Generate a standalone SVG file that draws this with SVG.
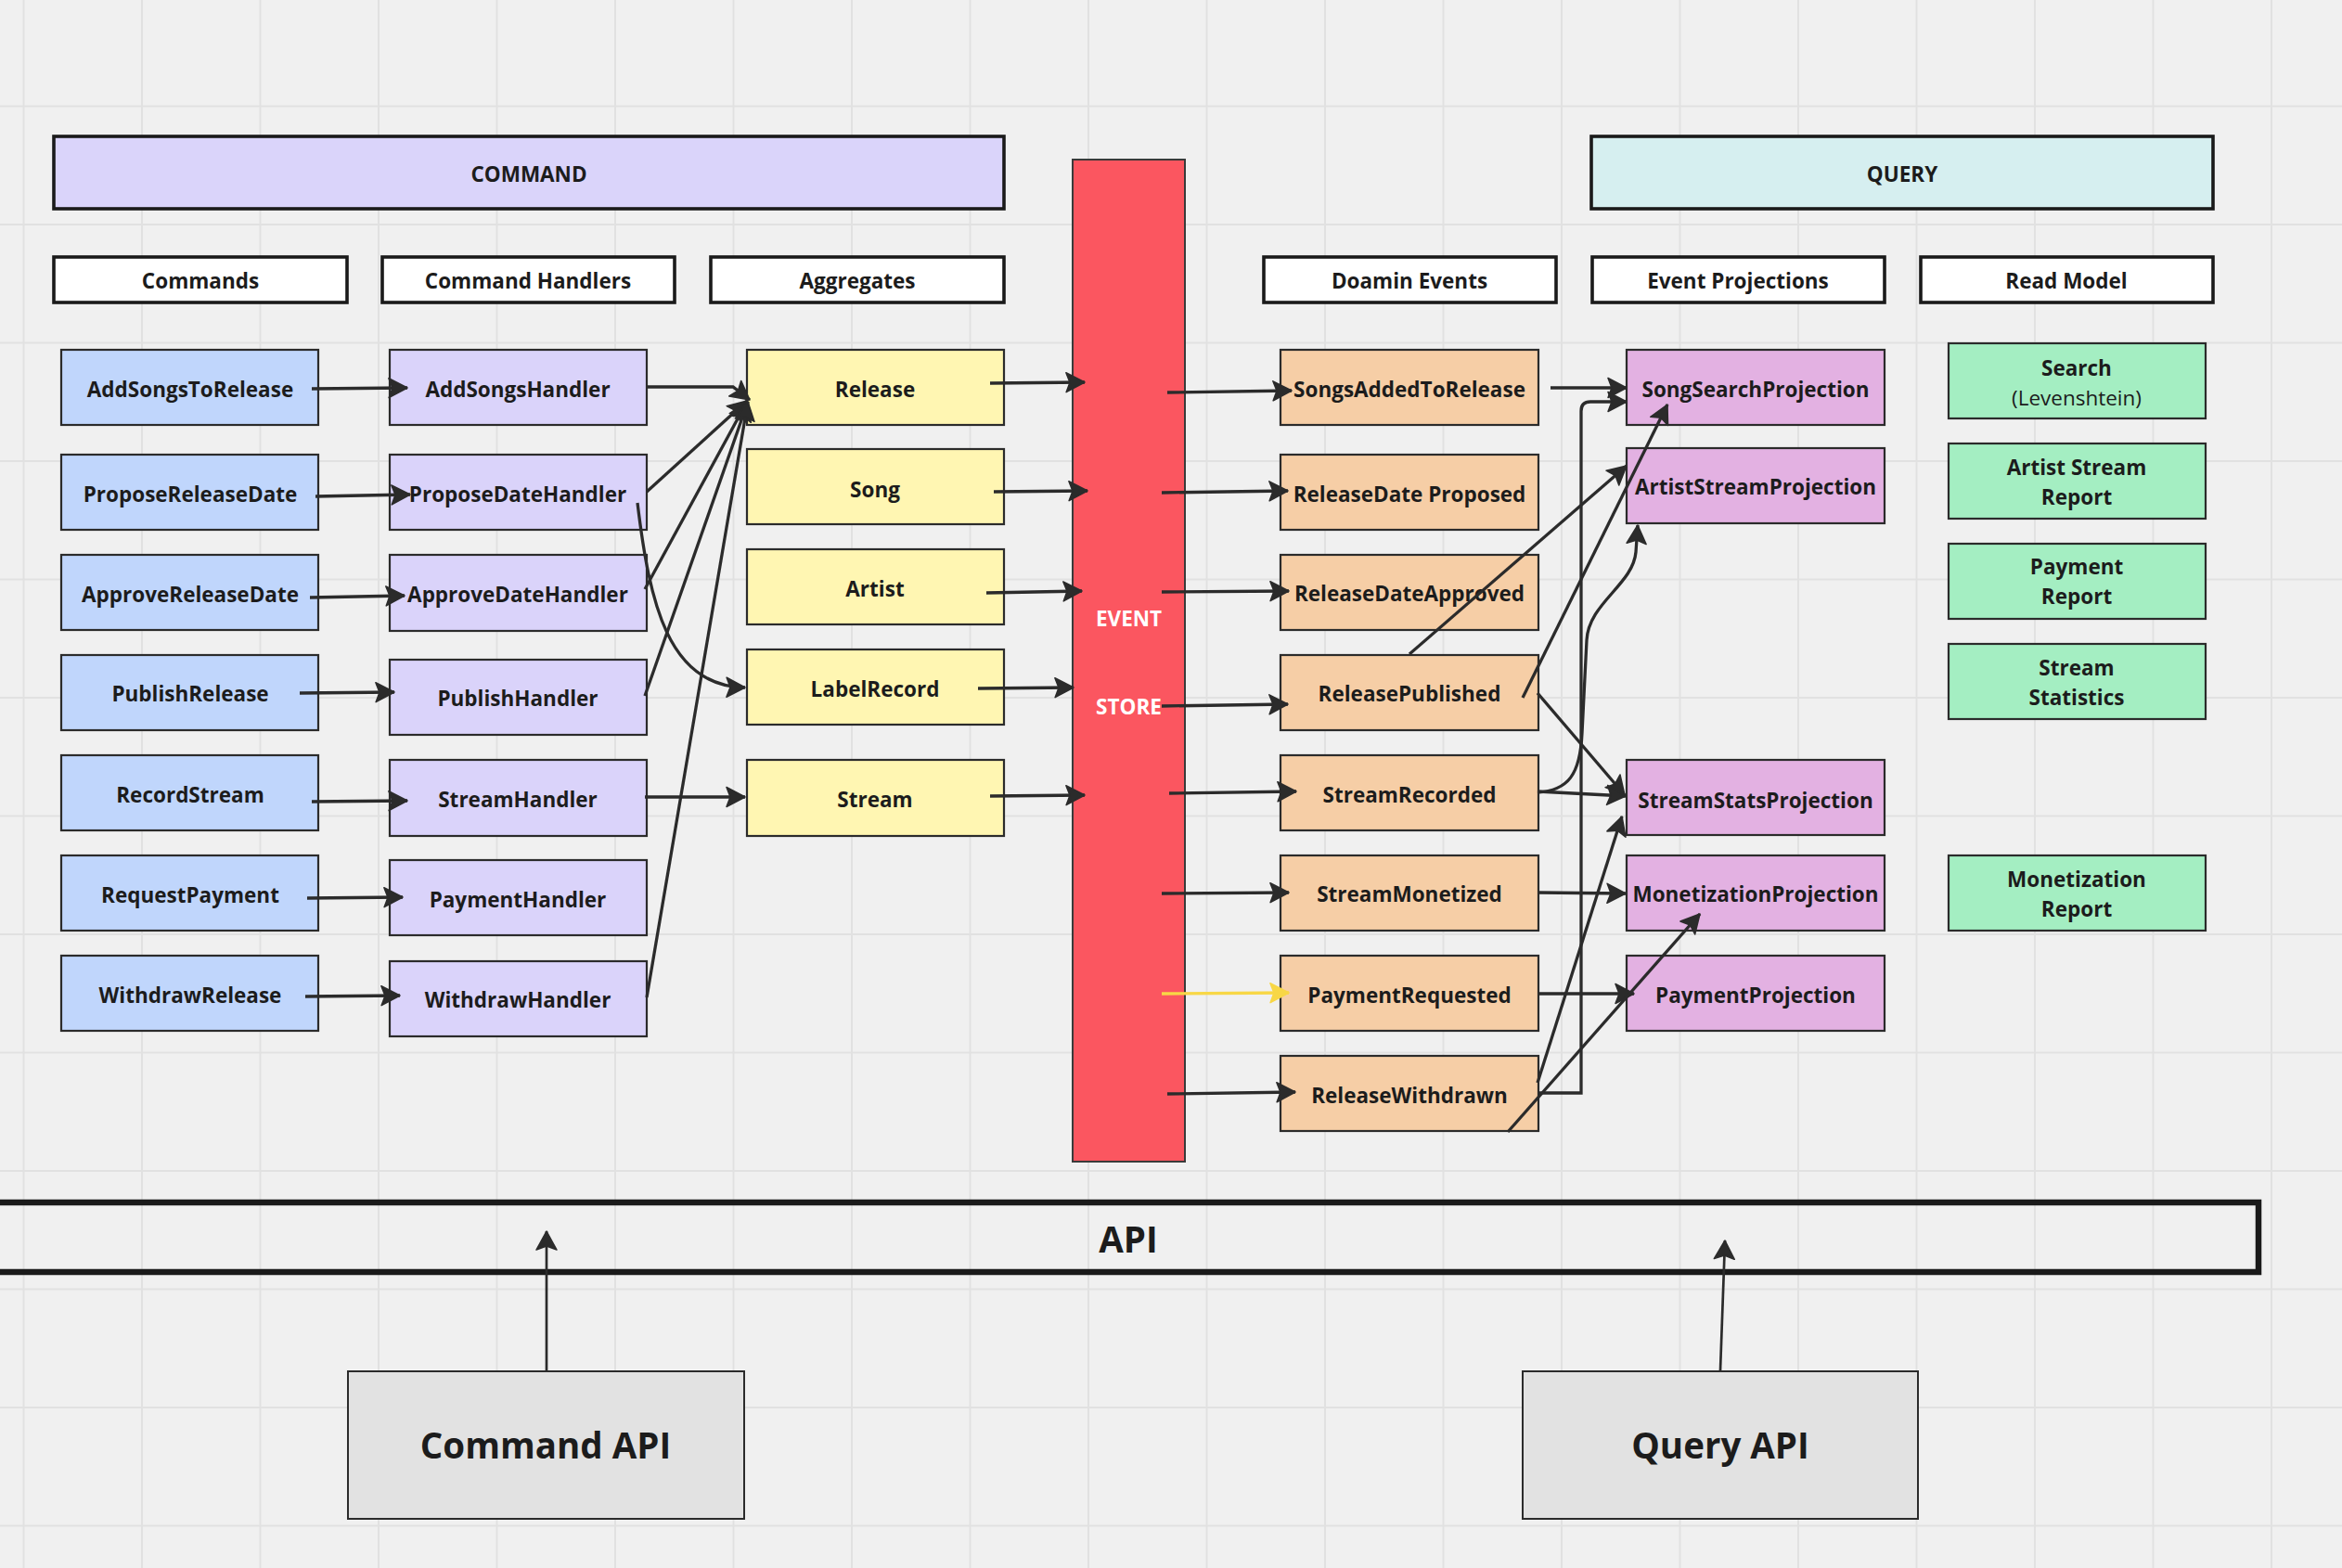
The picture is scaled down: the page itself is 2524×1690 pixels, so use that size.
<svg xmlns="http://www.w3.org/2000/svg" width="2524" height="1690" viewBox="0 0 2524 1690">
<defs>
<style>
.t{font-family:"Open Sans","Noto Sans","Liberation Sans",sans-serif;font-weight:700;font-size:22.5px;fill:#1c1c1c;text-anchor:middle;dominant-baseline:central}
.r{font-weight:400}
.w{fill:#ffffff}
.big{font-size:38.5px}
.n{stroke:#2b2b2b;stroke-width:2.2}
.hd{stroke:#1a1a1a;stroke-width:3.6}
.cmd{fill:#c0d6fc}
.hnd{fill:#dad3fa}
.agg{fill:#fff6b2}
.evt{fill:#f6cea6}
.prj{fill:#e3b1e2}
.rm{fill:#a4eec2}
.c{fill:none;stroke:#2b2b2b;stroke-width:3.3;marker-end:url(#ah)}
.g line{stroke:#e1e1e1;stroke-width:2}
</style>
<marker id="ah" markerUnits="userSpaceOnUse" viewBox="0 0 22 24" markerWidth="22" markerHeight="24" refX="21" refY="12" orient="auto"><path d="M1,1.5 L21,12 L1,22.5 L5,12 Z" fill="#2b2b2b" stroke="#2b2b2b" stroke-width="1.5" stroke-linejoin="round"/></marker>
<marker id="ahy" markerUnits="userSpaceOnUse" viewBox="0 0 22 24" markerWidth="22" markerHeight="24" refX="21" refY="12" orient="auto"><path d="M1,1.5 L21,12 L1,22.5 L5,12 Z" fill="#f8d746" stroke="#f8d746" stroke-width="1.5" stroke-linejoin="round"/></marker>
<marker id="ahs" markerUnits="userSpaceOnUse" viewBox="0 0 22 26" markerWidth="22" markerHeight="26" refX="21" refY="13" orient="auto"><path d="M1,2 L21,13 L1,24 L5,13 Z" fill="#2b2b2b" stroke="#2b2b2b" stroke-width="1.5" stroke-linejoin="round"/></marker>
</defs>
<rect x="0" y="0" width="2524" height="1690" fill="#f0f0f0"/>
<g class="g">
<line x1="25.5" y1="0" x2="25.5" y2="1690"/><line x1="153" y1="0" x2="153" y2="1690"/><line x1="280.5" y1="0" x2="280.5" y2="1690"/><line x1="408" y1="0" x2="408" y2="1690"/><line x1="535.5" y1="0" x2="535.5" y2="1690"/><line x1="663" y1="0" x2="663" y2="1690"/><line x1="790.5" y1="0" x2="790.5" y2="1690"/><line x1="918" y1="0" x2="918" y2="1690"/><line x1="1045.5" y1="0" x2="1045.5" y2="1690"/><line x1="1173" y1="0" x2="1173" y2="1690"/><line x1="1300.5" y1="0" x2="1300.5" y2="1690"/><line x1="1428" y1="0" x2="1428" y2="1690"/><line x1="1555.5" y1="0" x2="1555.5" y2="1690"/><line x1="1683" y1="0" x2="1683" y2="1690"/><line x1="1810.5" y1="0" x2="1810.5" y2="1690"/><line x1="1938" y1="0" x2="1938" y2="1690"/><line x1="2065.5" y1="0" x2="2065.5" y2="1690"/><line x1="2193" y1="0" x2="2193" y2="1690"/><line x1="2320.5" y1="0" x2="2320.5" y2="1690"/><line x1="2448" y1="0" x2="2448" y2="1690"/>
<line x1="0" y1="114.5" x2="2524" y2="114.5"/><line x1="0" y1="242" x2="2524" y2="242"/><line x1="0" y1="369.5" x2="2524" y2="369.5"/><line x1="0" y1="497" x2="2524" y2="497"/><line x1="0" y1="624.5" x2="2524" y2="624.5"/><line x1="0" y1="752" x2="2524" y2="752"/><line x1="0" y1="879.5" x2="2524" y2="879.5"/><line x1="0" y1="1007" x2="2524" y2="1007"/><line x1="0" y1="1134.5" x2="2524" y2="1134.5"/><line x1="0" y1="1262" x2="2524" y2="1262"/><line x1="0" y1="1389.5" x2="2524" y2="1389.5"/><line x1="0" y1="1517" x2="2524" y2="1517"/><line x1="0" y1="1644.5" x2="2524" y2="1644.5"/>
</g>

<g id="command-header"><rect class="hd" x="58" y="147" width="1024" height="78" fill="#dad4fa"/><text class="t" x="570" y="187">COMMAND</text></g>
<g id="query-header"><rect class="hd" x="1715" y="147" width="670" height="78" fill="#d6eff0"/><text class="t" x="2050" y="187">QUERY</text></g>

<g id="h-commands"><rect class="hd" x="58" y="277" width="316" height="49" fill="#ffffff"/><text class="t" x="216" y="302">Commands</text></g>
<g id="h-handlers"><rect class="hd" x="412" y="277" width="315" height="49" fill="#ffffff"/><text class="t" x="569" y="302">Command Handlers</text></g>
<g id="h-aggregates"><rect class="hd" x="766" y="277" width="316" height="49" fill="#ffffff"/><text class="t" x="924" y="302">Aggregates</text></g>
<g id="h-events"><rect class="hd" x="1362" y="277" width="315" height="49" fill="#ffffff"/><text class="t" x="1519" y="302">Doamin Events</text></g>
<g id="h-projections"><rect class="hd" x="1716" y="277" width="315" height="49" fill="#ffffff"/><text class="t" x="1873" y="302">Event Projections</text></g>
<g id="h-readmodel"><rect class="hd" x="2070" y="277" width="315" height="49" fill="#ffffff"/><text class="t" x="2227" y="302">Read Model</text></g>

<g id="cmd-addsongs"><rect class="n cmd" x="66" y="377" width="277" height="81"/><text class="t" x="205" y="419">AddSongsToRelease</text></g>
<g id="cmd-propose"><rect class="n cmd" x="66" y="490" width="277" height="81"/><text class="t" x="205" y="532">ProposeReleaseDate</text></g>
<g id="cmd-approve"><rect class="n cmd" x="66" y="598" width="277" height="81"/><text class="t" x="205" y="640">ApproveReleaseDate</text></g>
<g id="cmd-publish"><rect class="n cmd" x="66" y="706" width="277" height="81"/><text class="t" x="205" y="747">PublishRelease</text></g>
<g id="cmd-record"><rect class="n cmd" x="66" y="814" width="277" height="81"/><text class="t" x="205" y="856">RecordStream</text></g>
<g id="cmd-payment"><rect class="n cmd" x="66" y="922" width="277" height="81"/><text class="t" x="205" y="964">RequestPayment</text></g>
<g id="cmd-withdraw"><rect class="n cmd" x="66" y="1030" width="277" height="81"/><text class="t" x="205" y="1072">WithdrawRelease</text></g>

<g id="hd-addsongs"><rect class="n hnd" x="420" y="377" width="277" height="81"/><text class="t" x="558" y="419">AddSongsHandler</text></g>
<g id="hd-propose"><rect class="n hnd" x="420" y="490" width="277" height="81"/><text class="t" x="558" y="532">ProposeDateHandler</text></g>
<g id="hd-approve"><rect class="n hnd" x="420" y="598" width="277" height="82"/><text class="t" x="558" y="640">ApproveDateHandler</text></g>
<g id="hd-publish"><rect class="n hnd" x="420" y="711" width="277" height="81"/><text class="t" x="558" y="752">PublishHandler</text></g>
<g id="hd-stream"><rect class="n hnd" x="420" y="819" width="277" height="82"/><text class="t" x="558" y="861">StreamHandler</text></g>
<g id="hd-payment"><rect class="n hnd" x="420" y="927" width="277" height="81"/><text class="t" x="558" y="969">PaymentHandler</text></g>
<g id="hd-withdraw"><rect class="n hnd" x="420" y="1036" width="277" height="81"/><text class="t" x="558" y="1077">WithdrawHandler</text></g>

<g id="ag-release"><rect class="n agg" x="805" y="377" width="277" height="81"/><text class="t" x="943" y="419">Release</text></g>
<g id="ag-song"><rect class="n agg" x="805" y="484" width="277" height="81"/><text class="t" x="943" y="527">Song</text></g>
<g id="ag-artist"><rect class="n agg" x="805" y="592" width="277" height="81"/><text class="t" x="943" y="634">Artist</text></g>
<g id="ag-label"><rect class="n agg" x="805" y="700" width="277" height="81"/><text class="t" x="943" y="742">LabelRecord</text></g>
<g id="ag-stream"><rect class="n agg" x="805" y="819" width="277" height="82"/><text class="t" x="943" y="861">Stream</text></g>

<g id="event-store"><rect x="1156" y="172" width="121" height="1080" fill="#fb5660" stroke="#3a3a3a" stroke-width="2"/><text class="t w" x="1216.5" y="666">EVENT</text><text class="t w" x="1216.5" y="761">STORE</text></g>

<g id="ev-songsadded"><rect class="n evt" x="1380" y="377" width="278" height="81"/><text class="t" x="1519" y="419">SongsAddedToRelease</text></g>
<g id="ev-proposed"><rect class="n evt" x="1380" y="490" width="278" height="81"/><text class="t" x="1519" y="532">ReleaseDate Proposed</text></g>
<g id="ev-approved"><rect class="n evt" x="1380" y="598" width="278" height="81"/><text class="t" x="1519" y="639">ReleaseDateApproved</text></g>
<g id="ev-published"><rect class="n evt" x="1380" y="706" width="278" height="81"/><text class="t" x="1519" y="747">ReleasePublished</text></g>
<g id="ev-recorded"><rect class="n evt" x="1380" y="814" width="278" height="81"/><text class="t" x="1519" y="856">StreamRecorded</text></g>
<g id="ev-monetized"><rect class="n evt" x="1380" y="922" width="278" height="81"/><text class="t" x="1519" y="963">StreamMonetized</text></g>
<g id="ev-payreq"><rect class="n evt" x="1380" y="1030" width="278" height="81"/><text class="t" x="1519" y="1072">PaymentRequested</text></g>
<g id="ev-withdrawn"><rect class="n evt" x="1380" y="1138" width="278" height="81"/><text class="t" x="1519" y="1180">ReleaseWithdrawn</text></g>

<g id="pj-songsearch"><rect class="n prj" x="1753" y="377" width="278" height="81"/><text class="t" x="1892" y="419">SongSearchProjection</text></g>
<g id="pj-artiststream"><rect class="n prj" x="1753" y="483" width="278" height="81"/><text class="t" x="1892" y="524">ArtistStreamProjection</text></g>
<g id="pj-streamstats"><rect class="n prj" x="1753" y="819" width="278" height="81"/><text class="t" x="1892" y="862">StreamStatsProjection</text></g>
<g id="pj-monetization"><rect class="n prj" x="1753" y="922" width="278" height="81"/><text class="t" x="1892" y="963">MonetizationProjection</text></g>
<g id="pj-payment"><rect class="n prj" x="1753" y="1030" width="278" height="81"/><text class="t" x="1892" y="1072">PaymentProjection</text></g>

<g id="rm-search"><rect class="n rm" x="2100" y="370" width="277" height="81"/><text class="t" x="2238" y="396">Search</text><text class="t r" x="2238" y="428">(Levenshtein)</text></g>
<g id="rm-artist"><rect class="n rm" x="2100" y="478" width="277" height="81"/><text class="t" x="2238" y="503">Artist Stream</text><text class="t" x="2238" y="535">Report</text></g>
<g id="rm-payment"><rect class="n rm" x="2100" y="586" width="277" height="81"/><text class="t" x="2238" y="610">Payment</text><text class="t" x="2238" y="642">Report</text></g>
<g id="rm-stats"><rect class="n rm" x="2100" y="694" width="277" height="81"/><text class="t" x="2238" y="719">Stream</text><text class="t" x="2238" y="751">Statistics</text></g>
<g id="rm-monetization"><rect class="n rm" x="2100" y="922" width="277" height="81"/><text class="t" x="2238" y="947">Monetization</text><text class="t" x="2238" y="979">Report</text></g>

<g id="api"><rect x="-10" y="1296" width="2444" height="75" fill="none" stroke="#1a1a1a" stroke-width="6.5"/><text class="t big" x="1216" y="1335">API</text></g>
<g id="command-api"><rect x="375" y="1478" width="427" height="159" fill="#e2e2e2" stroke="#2b2b2b" stroke-width="2"/><text class="t big" x="588" y="1557">Command API</text></g>
<g id="query-api"><rect x="1641" y="1478" width="426" height="159" fill="#e2e2e2" stroke="#2b2b2b" stroke-width="2"/><text class="t big" x="1854" y="1557">Query API</text></g>

<g id="connectors">
<path class="c" d="M336,419 L439,418"/>
<path class="c" d="M340,535 L442,533"/>
<path class="c" d="M334,644 L436,642"/>
<path class="c" d="M323,747 L425,746"/>
<path class="c" d="M336,864 L439,863"/>
<path class="c" d="M331,968 L434,967"/>
<path class="c" d="M329,1074 L431,1073"/>
<path class="c" d="M697,417 H790 L808,431"/>
<path class="c" d="M697,530 L805,432"/>
<path class="c" d="M695,635 L805,433"/>
<path class="c" d="M695,750 L806,433"/>
<path class="c" d="M697,1075 L806,433"/>
<path class="c" d="M687,542 C700,650 720,740 803,741"/>
<path class="c" d="M695,859 L803,859"/>
<path class="c" d="M1067,413 L1169,412"/>
<path class="c" d="M1071,530 L1172,529"/>
<path class="c" d="M1063,639 L1166,637"/>
<path class="c" d="M1054,742 L1157,741"/>
<path class="c" d="M1067,858 L1169,857"/>
<path class="c" d="M1258,423 L1392,421"/>
<path class="c" d="M1252,531 L1388,529"/>
<path class="c" d="M1252,638 L1389,637"/>
<path class="c" d="M1252,761 L1388,759"/>
<path class="c" d="M1260,855 L1397,853"/>
<path class="c" d="M1252,963 L1389,962"/>
<path class="c" d="M1252,1071 L1389,1070" style="stroke:#f8d746;marker-end:url(#ahy)"/>
<path class="c" d="M1258,1179 L1396,1177"/>
<path class="c" d="M1671,418 L1753,418"/>
<path class="c" d="M1519,705 L1753,502"/>
<path class="c" d="M1641,752 L1797,436"/>
<path class="c" d="M1657,747 L1751,857"/>
<path class="c" d="M1657,1178 H1704 V443 Q1704,433 1714,433 H1753"/>
<path class="c" d="M1657,854 C1690,852 1703,835 1705,790 L1710,690 C1712,650 1760,630 1763,595 L1765,566"/>
<path class="c" d="M1657,853 L1752,858"/>
<path class="c" d="M1657,962 L1752,963"/>
<path class="c" d="M1657,1071 L1761,1071"/>
<path class="c" d="M1657,1167 L1748,880"/>
<path class="c" d="M1625,1220 L1832,985"/>
<path class="c" d="M589,1477 L589,1327" style="stroke-width:2.7;marker-end:url(#ahs)"/>
<path class="c" d="M1854,1477 L1859,1337" style="stroke-width:2.7;marker-end:url(#ahs)"/>
</g>
</svg>
